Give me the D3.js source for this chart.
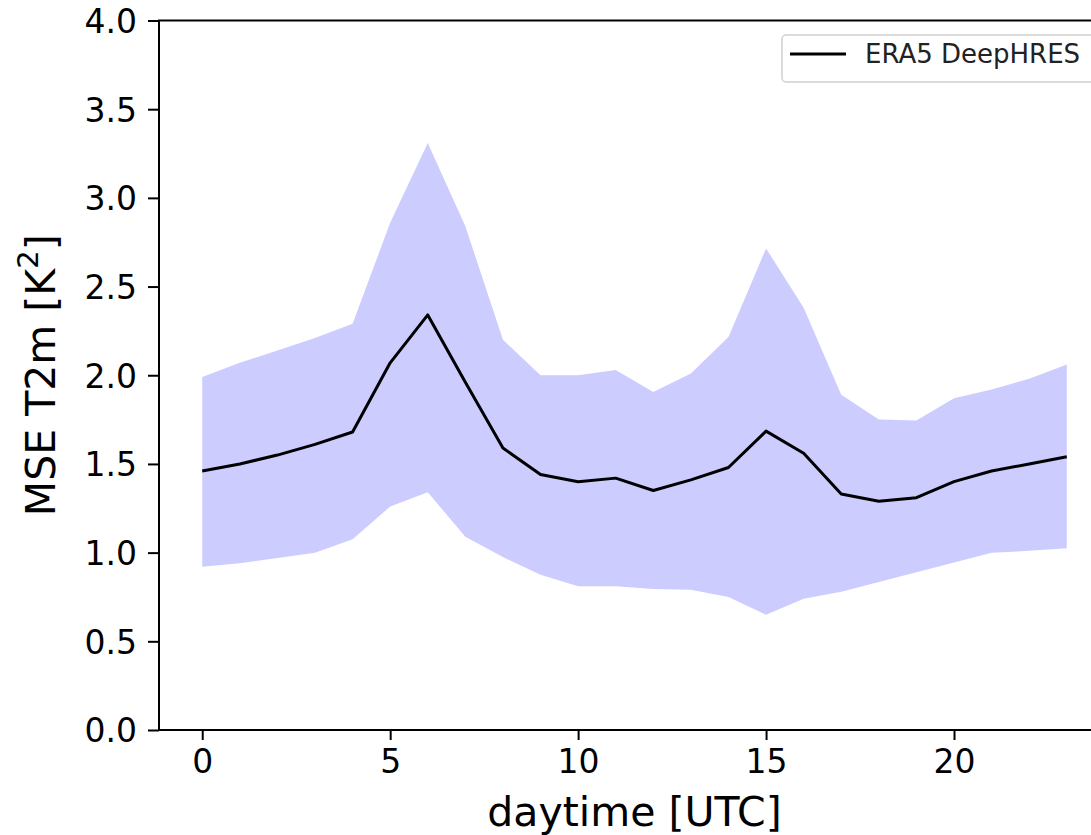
<!DOCTYPE html>
<html>
<head>
<meta charset="utf-8">
<script src="https://cdn.jsdelivr.net/npm/d3@7"></script>
<style>
  body { margin: 0; background: #fff; overflow: hidden; }
  svg { display: block; font-family: "DejaVu Sans", sans-serif; }
</style>
</head>
<body>
<div id="chart"></div>
<script>
// hourly MSE of T2m
const hours = d3.range(0, 24);
const mseMean = [1.46, 1.50, 1.55, 1.61, 1.68, 2.07, 2.34, 1.96, 1.59, 1.44, 1.40, 1.42,
                 1.35, 1.41, 1.48, 1.685, 1.56, 1.33, 1.29, 1.31, 1.40, 1.46, 1.50, 1.54];
const mseUpper = [1.99, 2.07, 2.14, 2.21, 2.29, 2.86, 3.31, 2.84, 2.20, 2.00, 2.00, 2.03,
                  1.905, 2.01, 2.215, 2.715, 2.38, 1.89, 1.75, 1.745, 1.87, 1.92, 1.98, 2.06];
const mseLower = [0.92, 0.94, 0.97, 1.00, 1.075, 1.26, 1.34, 1.09, 0.975, 0.875, 0.81, 0.81,
                  0.795, 0.79, 0.75, 0.65, 0.74, 0.78, 0.835, 0.89, 0.945, 1.0, 1.01, 1.025];
const xTicks = [0, 5, 10, 15, 20];
const yTicks = [0, 0.5, 1, 1.5, 2, 2.5, 3, 3.5, 4];
const seriesName = 'ERA5 DeepHRES';

const W = 1091, H = 835;
const margin = { top: 20.5, left: 159, bottom: 105, right: -19 };
const innerW = W - margin.left - margin.right;
const innerH = H - margin.top - margin.bottom;
const font = '"DejaVu Sans", sans-serif';

const data = hours.map((h, i) => ({ h, m: mseMean[i], lo: mseLower[i], hi: mseUpper[i] }));

const svg = d3.select('#chart').append('svg')
  .attr('width', W)
  .attr('height', H);

const g = svg.append('g')
  .attr('transform', `translate(${margin.left},${margin.top})`);

// matplotlib style 5% margins on x
const x = d3.scaleLinear().domain([-1.15, 24.15]).range([0, innerW]);
const y = d3.scaleLinear().domain([0, 4]).range([innerH, 0]);

// spread band
g.append('path')
  .datum(data)
  .attr('fill', '#ccccff')
  .attr('d', d3.area().x(d => x(d.h)).y0(d => y(d.lo)).y1(d => y(d.hi)));

// mean line
g.append('path')
  .datum(data)
  .attr('fill', 'none')
  .attr('stroke', '#000')
  .attr('stroke-width', 3)
  .attr('stroke-linejoin', 'round')
  .attr('d', d3.line().x(d => x(d.h)).y(d => y(d.m)));

// axes
const xAxis = g.append('g')
  .attr('transform', `translate(0,${innerH})`)
  .call(d3.axisBottom(x).tickValues(xTicks).tickSize(10).tickPadding(10).tickSizeOuter(0));
const yAxis = g.append('g')
  .call(d3.axisLeft(y).tickValues(yTicks).tickFormat(d3.format('.1f')).tickSize(11).tickPadding(11).tickSizeOuter(0));

[xAxis, yAxis].forEach(ax => {
  ax.attr('font-family', font).attr('font-size', null);
  ax.select('.domain').remove();
  ax.selectAll('line').attr('stroke', '#000').attr('stroke-width', 2);
  ax.selectAll('text').attr('fill', '#000').style('font-size', '33px');
});
yAxis.selectAll('text').attr('dy', '0.36em');

// frame
g.append('rect')
  .attr('x', 0).attr('y', 0)
  .attr('width', innerW).attr('height', innerH)
  .attr('fill', 'none')
  .attr('stroke', '#000')
  .attr('stroke-width', 2);

// axis labels
svg.append('text')
  .attr('x', margin.left + innerW / 2)
  .attr('y', 826)
  .attr('text-anchor', 'middle')
  .style('font-size', '41px')
  .text('daytime [UTC]');

const yl = svg.append('text')
  .attr('transform', `translate(55,${margin.top + innerH / 2}) rotate(-90)`)
  .attr('text-anchor', 'middle')
  .style('font-size', '41px');
yl.append('tspan').text('MSE T2m [K');
yl.append('tspan').attr('baseline-shift', 'super').style('font-size', '29px').text('2');
yl.append('tspan').text(']');

// legend
const lg = svg.append('g').attr('transform', 'translate(782,35)');
lg.append('rect')
  .attr('width', 316).attr('height', 47)
  .attr('rx', 4)
  .attr('fill', '#fff')
  .attr('fill-opacity', 0.8)
  .attr('stroke', '#d0d0d0')
  .attr('stroke-width', 1.5);
lg.append('line')
  .attr('x1', 8).attr('x2', 64)
  .attr('y1', 19).attr('y2', 19)
  .attr('stroke', '#000')
  .attr('stroke-width', 3);
lg.append('text')
  .attr('x', 83).attr('y', 28)
  .style('font-size', '26px')
  .attr('fill', '#222')
  .text(seriesName);
</script>
</body>
</html>
